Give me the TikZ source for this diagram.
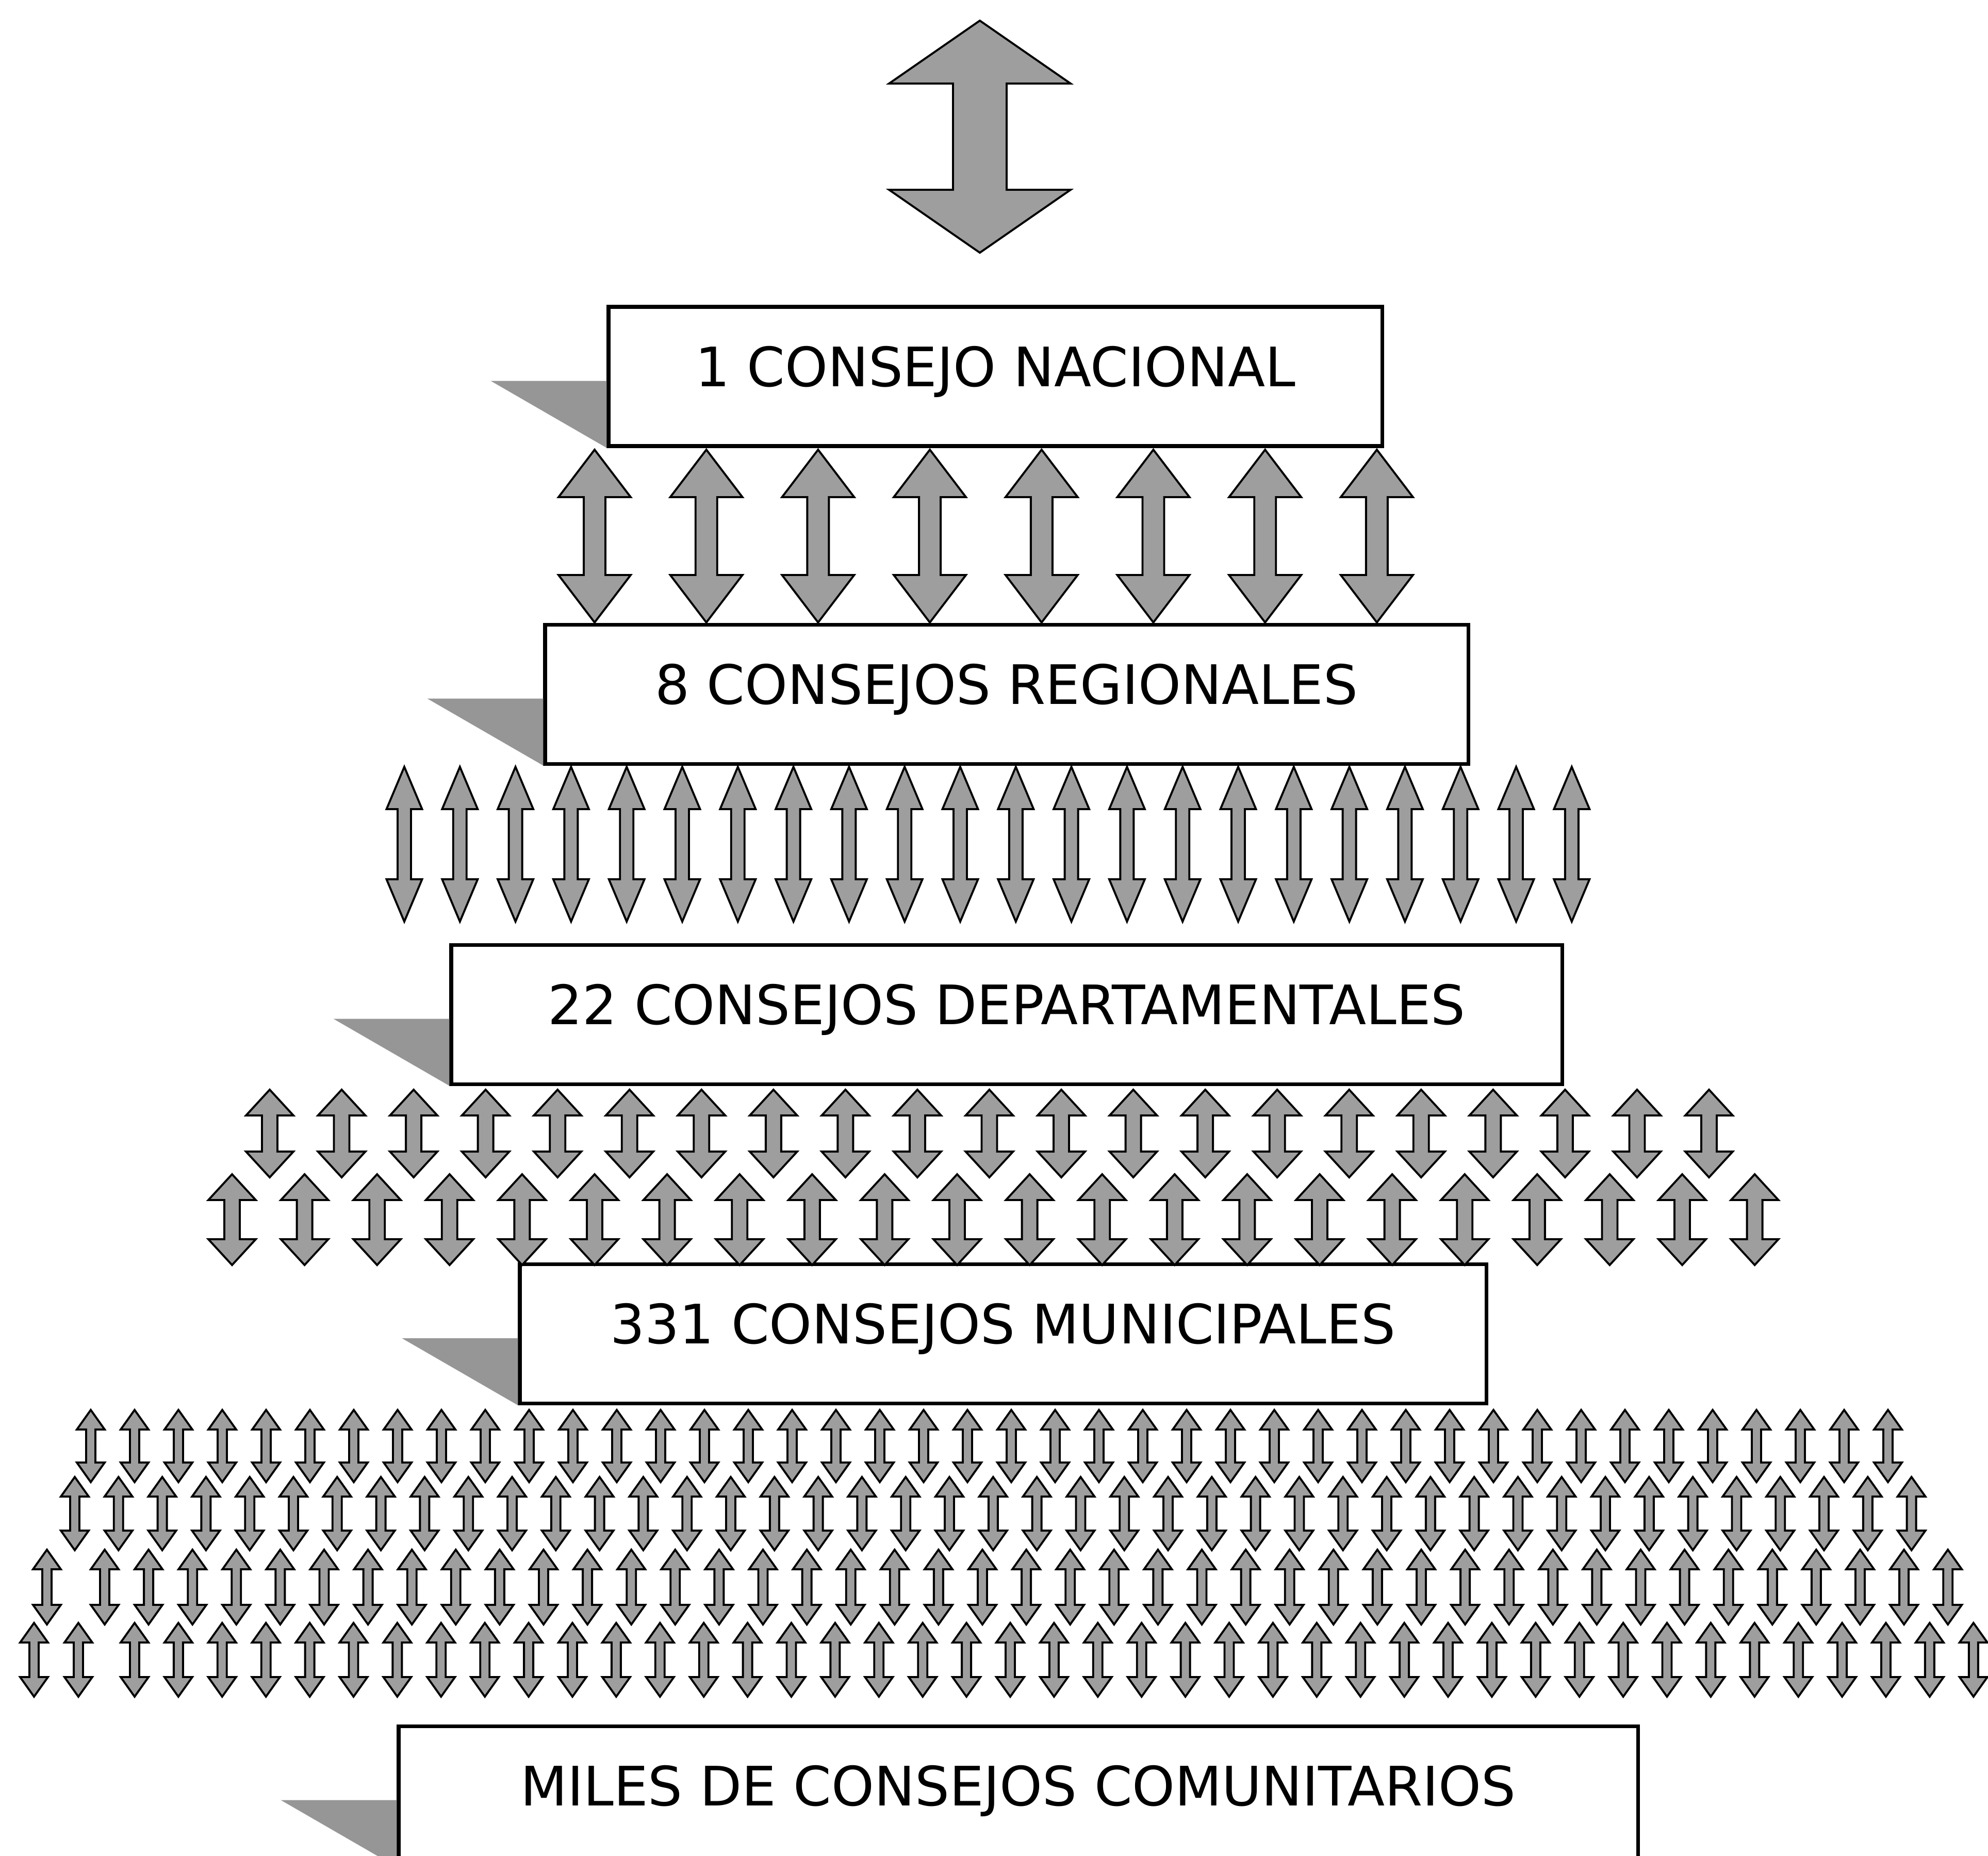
\documentclass[tikz,border=0pt]{standalone}
\usepackage{fontspec}
\setmainfont{DejaVu Sans}
\definecolor{arrowgray}{RGB}{158,158,158}
\definecolor{shadegray}{RGB}{150,150,150}
\newcommand{\dblarrow}[6]{%
  \filldraw[updown] (#1,#2) -- ({#1+#4},{#2-#6}) -- ({#1+#5},{#2-#6}) -- ({#1+#5},{#3+#6})
    -- ({#1+#4},{#3+#6}) -- (#1,#3) -- ({#1-#4},{#3+#6}) -- ({#1-#5},{#3+#6})
    -- ({#1-#5},{#2-#6}) -- ({#1-#4},{#2-#6}) -- cycle;}
\begin{document}
\begin{tikzpicture}[
    council/.style={draw, line width=2pt, fill=white, minimum height=2.7cm, inner sep=0pt,
      text height=0.80cm, text depth=0.42cm, font=\fontsize{30}{36}\selectfont},
    updown/.style={fill=arrowgray, draw=black, line width=1.1pt, line join=miter},
    shade/.style={fill=shadegray}
  ]
  \useasboundingbox (0,0) rectangle (38.55,-35.99);

  \dblarrow{19.00}{-0.40}{-4.90}{1.76}{0.52}{1.22}

  \node (nac) [council, minimum width=15.00cm] at (19.30,-7.30) {1 CONSEJO NACIONAL};
  \node (reg) [council, minimum width=17.90cm] at (19.52,-13.46) {8 CONSEJOS REGIONALES};
  \node (dep) [council, minimum width=21.54cm] at (19.52,-19.67) {22 CONSEJOS DEPARTAMENTALES};
  \node (mun) [council, minimum width=18.74cm] at (19.45,-25.865) {331 CONSEJOS MUNICIPALES};
  \node (com) [council, minimum width=24.03cm] at (19.745,-34.82) {MILES DE CONSEJOS COMUNITARIOS};

  \fill[shade] (nac.south west) -- ++(0,1.3) -- ++(-2.25,0) -- cycle;
  \fill[shade] (reg.south west) -- ++(0,1.3) -- ++(-2.25,0) -- cycle;
  \fill[shade] (dep.south west) -- ++(0,1.3) -- ++(-2.25,0) -- cycle;
  \fill[shade] (mun.south west) -- ++(0,1.3) -- ++(-2.25,0) -- cycle;
  \fill[shade] (com.south west) -- ++(0,1.3) -- ++(-2.25,0) -- cycle;

  \foreach \i in {0,...,7}
    {\dblarrow{11.53+2.167*\i}{-8.72}{-12.07}{0.70}{0.21}{0.92}}
  \foreach \i in {0,...,21}
    {\dblarrow{7.84+1.078*\i}{-14.87}{-17.87}{0.345}{0.13}{0.82}}

  \foreach \i in {0,...,20}
    {\dblarrow{5.23+1.3955*\i}{-21.13}{-22.83}{0.46}{0.15}{0.50}}
  \foreach \i in {0,...,21}
    {\dblarrow{4.50+1.406*\i}{-22.77}{-24.53}{0.46}{0.15}{0.50}}

  \foreach \i in {0,...,41}
    {\dblarrow{1.76+0.850*\i}{-27.34}{-28.74}{0.27}{0.09}{0.38}}
  \foreach \i in {0,...,42}
    {\dblarrow{1.45+0.848*\i}{-28.64}{-30.06}{0.27}{0.09}{0.38}}
  \dblarrow{0.91}{-30.05}{-31.50}{0.27}{0.09}{0.38}
  \foreach \i in {0,...,42}
    {\dblarrow{2.03+0.851*\i}{-30.05}{-31.50}{0.27}{0.09}{0.38}}
  \dblarrow{0.66}{-31.47}{-32.90}{0.27}{0.09}{0.38}
  \dblarrow{1.52}{-31.47}{-32.90}{0.27}{0.09}{0.38}
  \foreach \i in {0,...,42}
    {\dblarrow{2.61+0.849*\i}{-31.47}{-32.90}{0.27}{0.09}{0.38}}
\end{tikzpicture}
\end{document}
